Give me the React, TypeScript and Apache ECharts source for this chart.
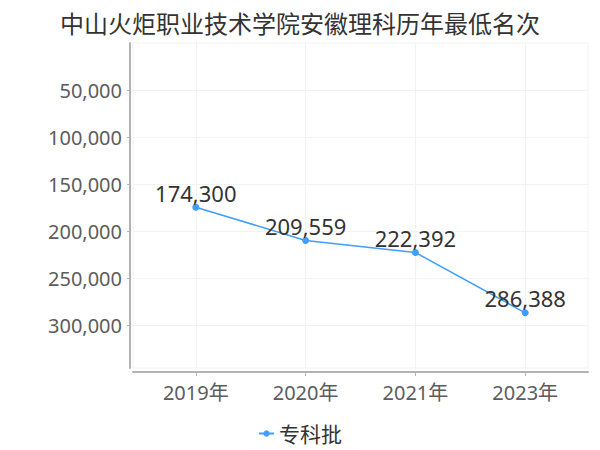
import React, { useEffect, useRef } from "react";
import * as echarts from "echarts";

const title = "中山火炬职业技术学院安徽理科历年最低名次";
const categories = ["2019年", "2020年", "2021年", "2023年"];
const seriesName = "专科批";
const values = [174300, 209559, 222392, 286388];
const yTicks = [50000, 100000, 150000, 200000, 250000, 300000];

const FONT = '"Noto Sans", "Noto Sans CJK SC", sans-serif';

export default function App() {
  const ref = useRef<HTMLDivElement>(null);
  useEffect(() => {
    if (!ref.current) return;
    const chart = echarts.init(ref.current, null, { renderer: "svg" });
    const idx = categories.map((_, i) => i);
    chart.setOption({
      animation: false,
      backgroundColor: "#ffffff",
      textStyle: { fontFamily: FONT },
      title: {
        text: title,
        left: "center",
        top: 6,
        textStyle: { fontSize: 24, fontWeight: "normal", color: "#333333", fontFamily: FONT },
      },
      legend: {
        data: [seriesName],
        left: "center",
        top: 418,
        itemWidth: 15,
        itemHeight: 8,
        itemGap: 10,
        textStyle: { fontSize: 21, color: "#333333", fontFamily: FONT },
      },
      grid: {
        left: 133,
        right: 12,
        top: 43,
        bottom: 82,
        show: true,
        borderColor: "#f2f2f2",
        borderWidth: 1,
        containLabel: false,
      },
      xAxis: {
        type: "value",
        min: -0.572,
        max: 3.572,
        minInterval: 1,
        maxInterval: 1,
        offset: 4,
        axisLine: { show: true, onZero: false, lineStyle: { color: "#b3b3b3", width: 2 } },
        axisTick: { show: true, length: 4, lineStyle: { color: "#b3b3b3" }, customValues: idx },
        axisLabel: {
          customValues: idx,
          margin: 10,
          fontSize: 20,
          color: "#5c5c5c",
          fontFamily: FONT,
          formatter: (v: number) => (Number.isInteger(v) && categories[v] !== undefined ? categories[v] : ""),
        },
        splitLine: { show: true, lineStyle: { color: "#f2f2f2", width: 1 } },
      },
      yAxis: {
        type: "value",
        inverse: true,
        min: 0,
        max: 345000,
        interval: 50000,
        offset: 3,
        axisLine: { show: true, onZero: false, lineStyle: { color: "#b3b3b3", width: 2 } },
        axisTick: { show: true, length: 3, lineStyle: { color: "#b3b3b3" }, customValues: yTicks },
        axisLabel: {
          customValues: yTicks,
          margin: 8,
          fontSize: 20,
          color: "#5c5c5c",
          fontFamily: FONT,
          formatter: (v: number) => v.toLocaleString("en-US"),
        },
        splitLine: { show: true, lineStyle: { color: "#f2f2f2", width: 1 } },
      },
      series: [
        {
          name: seriesName,
          type: "line",
          data: values.map((v, i) => [i, v]),
          symbol: "circle",
          symbolSize: 7,
          color: "#409eff",
          lineStyle: { color: "#409eff", width: 1.5 },
          itemStyle: { color: "#409eff" },
          label: {
            show: true,
            position: "top",
            distance: 0,
            fontSize: 22,
            color: "#333333",
            fontFamily: FONT,
            formatter: (p: any) => Number(p.value[1]).toLocaleString("en-US"),
          },
        },
      ],
    });
    return () => chart.dispose();
  }, []);
  return (
    <div
      ref={ref}
      style={{ position: "fixed", left: 0, top: 0, width: 600, height: 450, background: "#fff" }}
    />
  );
}
